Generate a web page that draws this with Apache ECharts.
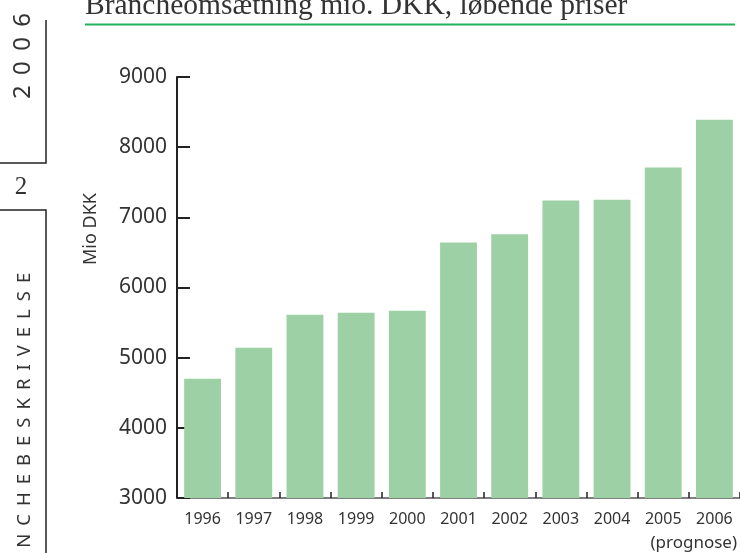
<!DOCTYPE html>
<html>
<head>
<meta charset="utf-8">
<script src="https://cdn.jsdelivr.net/npm/echarts@6/dist/echarts.min.js"></script>
<style>
html,body{margin:0;padding:0;background:#fff;}
#chart{width:740px;height:553px;}
</style>
</head>
<body>
<div id="chart"></div>
<script>
const years = ['1996','1997','1998','1999','2000','2001','2002','2003','2004','2005','2006'];
const turnover = [4700, 5140, 5610, 5640, 5670, 6640, 6760, 7240, 7250, 7710, 8390];
const yTicks = { min: 3000, max: 9000, interval: 1000 };
const titleText = 'Brancheomsætning mio. DKK, løbende priser';
const yName = 'Mio DKK';
const noteText = '(prognose)';
const sideYear = '2006';
const pageNo = '2';
const sideLabel = 'BRANCHEBESKRIVELSE';

const sans = '"Noto Sans", "DejaVu Sans", sans-serif';
const serif = '"Liberation Serif", "DejaVu Serif", serif';
const spaced = s => s.split('').join('\u2004\u200a');

const chart = echarts.init(document.getElementById('chart'), null, {renderer: 'canvas'});
chart.setOption({
  animation: false,
  backgroundColor: '#fff',
  grid: { left: 177, right: 0, top: 77, bottom: 55, containLabel: false },
  xAxis: {
    type: 'category',
    data: years,
    axisLine: { show: true, lineStyle: { color: '#555', width: 1.5 } },
    axisTick: { show: true, inside: true, length: 6, lineStyle: { color: '#222', width: 1.5 } },
    axisLabel: { color: '#333', fontFamily: sans, fontSize: 16, margin: 13 },
    splitLine: { show: false }
  },
  yAxis: {
    type: 'value',
    min: yTicks.min, max: yTicks.max, interval: yTicks.interval,
    axisLine: { show: true, lineStyle: { color: '#222', width: 2 } },
    axisTick: { show: true, inside: true, length: 13, lineStyle: { color: '#222', width: 2 } },
    axisLabel: { color: '#333', fontFamily: sans, fontSize: 21, margin: 10, formatter: v => String(v) },
    splitLine: { show: false }
  },
  series: [{
    type: 'bar',
    data: turnover,
    barCategoryGap: '28%',
    itemStyle: { color: '#9dd1a5' },
    z: 1
  }],
  graphic: [
    { type: 'text', x: 85, y: 21, style: { text: titleText, fontSize: 29.5, fontFamily: serif, fill: '#333', align: 'left', verticalAlign: 'bottom' } },
    { type: 'line', shape: { x1: 85, y1: 24.5, x2: 735, y2: 24.5 }, style: { stroke: '#22b35e', lineWidth: 2 } },
    { type: 'text', x: 91, y: 229, rotation: Math.PI / 2, style: { text: yName, fontSize: 18, fontFamily: sans, fill: '#333', align: 'center', verticalAlign: 'middle' } },
    { type: 'text', x: 737, y: 543, style: { text: noteText, fontSize: 17, fontFamily: sans, fill: '#333', align: 'right', verticalAlign: 'middle' } },
    { type: 'polyline', shape: { points: [[46, 20], [46, 163], [0, 163]] }, style: { stroke: '#222', lineWidth: 1.5, fill: null } },
    { type: 'polyline', shape: { points: [[0, 210], [46, 210], [46, 553]] }, style: { stroke: '#222', lineWidth: 1.5, fill: null } },
    { type: 'text', x: 23, y: 56, rotation: Math.PI / 2, style: { text: spaced(sideYear), fontSize: 24, fontFamily: sans, fill: '#333', align: 'center', verticalAlign: 'middle' } },
    { type: 'text', x: 21, y: 187, style: { text: pageNo, fontSize: 25, fontFamily: serif, fill: '#333', align: 'center', verticalAlign: 'middle' } },
    { type: 'text', x: 25, y: 440, rotation: Math.PI / 2, style: { text: spaced(sideLabel), fontSize: 18.5, fontFamily: sans, fill: '#333', align: 'center', verticalAlign: 'middle' } }
  ]
});
</script>
</body>
</html>
